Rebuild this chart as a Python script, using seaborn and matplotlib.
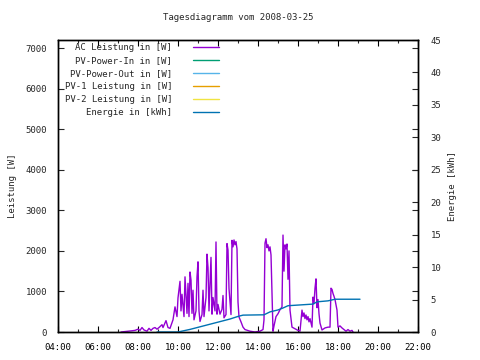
import matplotlib
matplotlib.use("Agg")
import matplotlib.pyplot as plt
import matplotlib.ticker as mticker
import pandas as pd
import seaborn as sns

# AC Leistung [W]
ac_time = [
    "07:09", "07:21", "07:36", "07:42", "07:51", "08:00", "08:06", "08:12", "08:18", "08:27",
    "08:33", "08:39", "08:45", "08:51", "08:57", "09:03", "09:12", "09:15", "09:24", "09:30",
    "09:36", "09:45", "09:51", "09:57", "10:00", "10:06", "10:09", "10:12", "10:18", "10:21",
    "10:27", "10:30", "10:33", "10:36", "10:39", "10:42", "10:45", "10:48", "10:54", "10:57",
    "11:00", "11:03", "11:06", "11:12", "11:15", "11:18", "11:24", "11:27", "11:30", "11:33",
    "11:39", "11:42", "11:45", "11:51", "11:54", "11:57", "12:00", "12:06", "12:12", "12:15",
    "12:18", "12:24", "12:27", "12:30", "12:33", "12:39", "12:42", "12:45", "12:48", "12:51",
    "12:54", "12:57", "13:00", "13:03", "13:09", "13:15", "13:21", "13:36", "13:51", "14:06",
    "14:15", "14:18", "14:21", "14:24", "14:27", "14:30", "14:33", "14:36", "14:39", "14:42",
    "14:45", "14:48", "14:54", "15:00", "15:06", "15:12", "15:15", "15:18", "15:21", "15:24",
    "15:27", "15:30", "15:33", "15:36", "15:42", "15:51", "16:00", "16:06", "16:12", "16:15",
    "16:18", "16:21", "16:24", "16:27", "16:30", "16:33", "16:36", "16:42", "16:45", "16:48",
    "16:51", "16:54", "16:57", "17:00", "17:03", "17:06", "17:12", "17:21", "17:30", "17:36",
    "17:39", "17:42", "17:45", "17:48", "17:51", "17:57", "18:00", "18:06", "18:12", "18:18",
    "18:24", "18:30", "18:36", "18:42", "18:45",
]
ac_watt = [
    0, 10, 20, 30, 40, 70, 40, 110, 50, 20,
    90, 40, 90, 110, 70, 110, 180, 110, 280, 110,
    90, 300, 620, 380, 840, 1250, 520, 930, 380, 1360,
    460, 1200, 380, 1480, 1280, 460, 1030, 300, 520, 1360,
    1730, 520, 260, 430, 1030, 380, 850, 1920, 1590, 520,
    1840, 440, 850, 520, 2220, 440, 680, 440, 560, 900,
    350, 430, 2180, 2020, 1070, 430, 2260, 2100, 2270, 2150,
    2230, 2050, 740, 370, 250, 120, 60, 20, 0, 20,
    60, 300, 2190, 2300, 2080, 2150, 2000, 2100, 1900, 960,
    20, 150, 380, 450, 550, 620, 2390, 1500, 2150, 2050,
    2170, 1300, 2000, 540, 120, 80, 40, 20, 540, 380,
    470, 330, 420, 300, 380, 250, 330, 120, 860, 700,
    1080, 1310, 600, 800, 450, 220, 50, 100, 120, 120,
    1080, 1050, 950, 880, 800, 540, 120, 150, 100, 60,
    20, 60, 20, 40, 0,
]

# Energie [kWh]
energy_time = ["08:57", "10:00", "10:36", "11:06", "11:36", "12:06", "12:36", "13:00",
               "13:15", "14:18", "14:36", "15:00", "15:15", "15:30", "16:45", "16:57",
               "17:30", "17:51", "19:06"]
energy_kwh = [0, 0, 0.4, 0.8, 1.2, 1.6, 2.0, 2.4,
              2.6, 2.65, 3.1, 3.4, 3.7, 4.05, 4.3, 4.65,
              4.8, 5.05, 5.05]

# PV series carry no data on this day
pv_in_time, pv_in_watt = [], []
pv_out_time, pv_out_watt = [], []
pv1_time, pv1_watt = [], []
pv2_time, pv2_watt = [], []

labels = ["AC Leistung in [W]", "PV-Power-In in [W]", "PV-Power-Out in [W]",
          "PV-1 Leistung in [W]", "PV-2 Leistung in [W]", "Energie in [kWh]"]
colors = ["#9400d3", "#009e73", "#56b4e9", "#e69f00", "#f0e442", "#0072b2"]


def to_hours(times):
    return [int(t[:2]) + int(t[3:]) / 60 for t in times]


ac = pd.DataFrame({"h": to_hours(ac_time), "w": ac_watt})
energy = pd.DataFrame({"h": to_hours(energy_time), "kwh": energy_kwh})

sns.set_theme(style="white")
plt.rcParams["font.family"] = ["DejaVu Sans Mono"]
plt.rcParams["font.size"] = 6.5

fig = plt.figure(figsize=(4.8, 3.6), dpi=100)
ax = fig.add_axes([58 / 480, 28 / 360, 360 / 480, 292 / 360])
ax2 = ax.twinx()

sns.lineplot(data=ac, x="h", y="w", ax=ax, color=colors[0], lw=1.0,
             estimator=None, sort=False, label=labels[0], legend=False)
ax.plot(pv_in_time, pv_in_watt, color=colors[1], lw=1.0, label=labels[1])
ax.plot(pv_out_time, pv_out_watt, color=colors[2], lw=1.0, label=labels[2])
ax.plot(pv1_time, pv1_watt, color=colors[3], lw=1.0, label=labels[3])
ax.plot(pv2_time, pv2_watt, color=colors[4], lw=1.0, label=labels[4])
sns.lineplot(data=energy, x="h", y="kwh", ax=ax2, color=colors[5], lw=1.0,
             estimator=None, sort=False, label=labels[5], legend=False)

ax.set_xlim(4, 22)
ax.set_ylim(0, 7200)
ax2.set_ylim(0, 45)

ax.xaxis.set_major_locator(mticker.MultipleLocator(2))
ax.xaxis.set_minor_locator(mticker.MultipleLocator(1))
ax.xaxis.set_major_formatter(mticker.FuncFormatter(lambda v, p: f"{int(v):02d}:00"))
ax.yaxis.set_major_locator(mticker.MultipleLocator(1000))
ax2.yaxis.set_major_locator(mticker.MultipleLocator(5))

ax.tick_params(axis="x", which="major", direction="in", length=4, width=0.8,
               top=True, bottom=True, pad=8, colors="black", labelsize=6.5)
ax.tick_params(axis="x", which="minor", direction="in", length=2, width=0.8,
               top=True, bottom=True)
# left ticks mirrored onto the right border, as gnuplot does
ax.tick_params(axis="y", direction="in", length=4, width=0.8, left=True,
               right=True, labelright=False, pad=8, labelsize=6.5)
ax2.tick_params(axis="y", direction="in", length=4, width=0.8, right=True,
                pad=9, labelsize=6.5)

ax.set_xlabel("")
ax.set_ylabel("Leistung [W]", fontsize=6.5, labelpad=6)
ax2.set_ylabel("Energie [kWh]", fontsize=6.5, labelpad=5)

for a in (ax, ax2):
    for s in a.spines.values():
        s.set_color("black")
        s.set_linewidth(1.0)

fig.text(238 / 480, 1 - 18 / 360, "Tagesdiagramm vom 2008-03-25",
         ha="center", va="center", fontsize=6.5)

handles = ax.get_lines() + ax2.get_lines()
ax2.legend(handles, labels, loc="upper right", markerfirst=False, frameon=False,
           bbox_to_anchor=(219 / 480, 1 - 43 / 360), bbox_transform=fig.transFigure,
           borderpad=0, borderaxespad=0, handlelength=2.9, handletextpad=2.3,
           labelspacing=0.45, fontsize=6.5)

fig.savefig("out.png", dpi=100)
